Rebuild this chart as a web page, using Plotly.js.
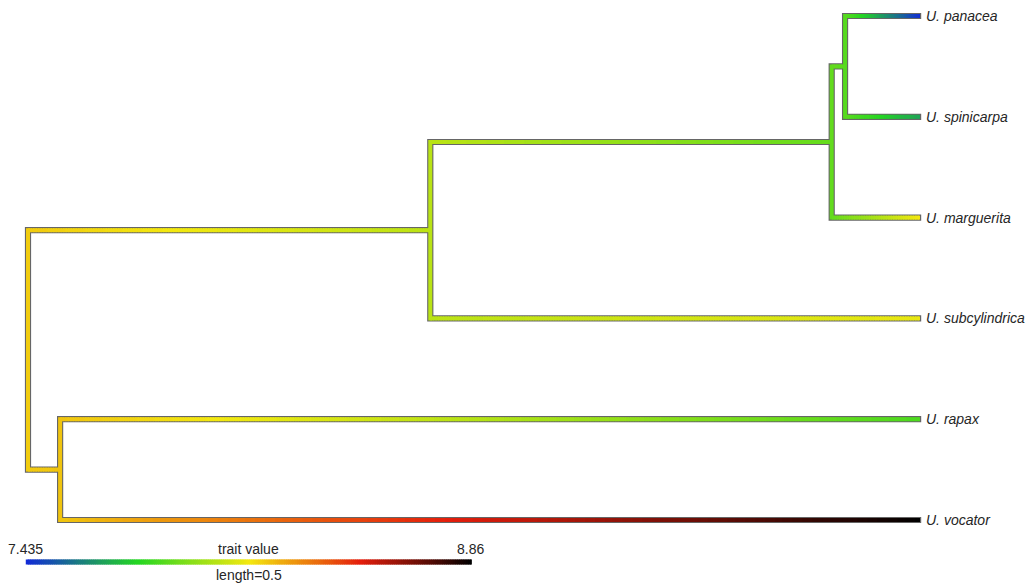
<!DOCTYPE html>
<html>
<head>
<meta charset="utf-8">
<script src="https://cdn.plot.ly/plotly-3.0.1.min.js"></script>
<style>
  html, body { margin: 0; padding: 0; background: #ffffff; }
  #chart { width: 1036px; height: 586px; }
</style>
</head>
<body>
<div id="chart"></div>
<script>
// ---- Tree data -------------------------------------------------------------
// Tips, listed top to bottom (ids 0-5)
const tipLabels = ["U. panacea", "U. spinicarpa", "U. marguerita", "U. subcylindrica", "U. rapax", "U. vocator"];
const tipTrait  = [7.435, 7.68, 8.15, 8.13, 7.86, 8.86];
const tipDepth  = [1, 1, 1, 1, 1, 1];

// Internal nodes (ids 6-10): root, upper clade, marguerita clade, panacea+spinicarpa, rapax+vocator
const nodeIds   = [6, 7, 8, 9, 10];
const nodeDepth = [0, 0.451, 0.901, 0.916, 0.036];
const nodeTrait = [8.20, 8.05, 7.90, 7.88, 8.21];

// Edges parent -> child
const edgeParent = [6, 6, 7, 7, 8, 8, 9, 9, 10, 10];
const edgeChild  = [7, 10, 8, 3, 9, 2, 0, 1, 4, 5];

// Colour scale limits and branch-length scale bar
const traitRange  = [7.435, 8.86];
const scaleLength = 0.5;
const legendTitle = "trait value";

// ---- Drawing settings ------------------------------------------------------
const W = 1036, H = 586;
const pxPerX = 892, pxPerY = 100.8;
const xRange = [-28 / pxPerX, (W - 28) / pxPerX];
const yTop = 6 + 16 / pxPerY;
const yRange = [yTop - H / pxPerY, yTop];
const innerW = 4, outlineW = 6.2, barW = 5;
const outlineColor = "#666666";

const rampStops = [
  [0.00, [18, 42, 215]],
  [0.25, [36, 214, 34]],
  [0.50, [243, 232, 16]],
  [0.75, [228, 30, 12]],
  [1.00, [0, 0, 0]]
];
function rampColor(f) {
  f = Math.max(0, Math.min(1, f));
  for (let i = 1; i < rampStops.length; i++) {
    if (f <= rampStops[i][0]) {
      const [f0, c0] = rampStops[i - 1], [f1, c1] = rampStops[i];
      const t = (f - f0) / (f1 - f0);
      const c = c0.map((v, k) => Math.round(v + (c1[k] - v) * t));
      return `rgb(${c[0]},${c[1]},${c[2]})`;
    }
  }
  return "rgb(0,0,0)";
}
const toFrac = v => (v - traitRange[0]) / (traitRange[1] - traitRange[0]);

// ---- Node lookups ------------------------------------------------------------
const depth = {}, trait = {}, ypos = {}, kids = {};
tipLabels.forEach((_, i) => { depth[i] = tipDepth[i]; trait[i] = tipTrait[i]; ypos[i] = tipLabels.length - i; });
nodeIds.forEach((id, i) => { depth[id] = nodeDepth[i]; trait[id] = nodeTrait[i]; });
edgeParent.forEach((p, i) => { (kids[p] = kids[p] || []).push(edgeChild[i]); });
function nodeY(id) {
  if (ypos[id] === undefined) {
    const ys = kids[id].map(nodeY);
    ypos[id] = (Math.min(...ys) + Math.max(...ys)) / 2;
  }
  return ypos[id];
}
nodeIds.forEach(nodeY);

// ---- Segments coloured by value (grouped into colour bins) -------------------
const NBIN = 200;
function binnedTraces(segs, width) {
  const bins = {};
  segs.forEach(s => {
    const b = Math.round(Math.max(0, Math.min(1, s.f)) * NBIN);
    if (!bins[b]) bins[b] = { x: [], y: [] };
    bins[b].x.push(s.x0, s.x1, null);
    bins[b].y.push(s.y0, s.y1, null);
  });
  return Object.keys(bins).map(b => ({
    type: "scatter", mode: "lines",
    x: bins[b].x, y: bins[b].y,
    line: { color: rampColor(b / NBIN), width: width },
    hoverinfo: "skip", showlegend: false
  }));
}

// Outline: one bracket path per internal node
const ox = [], oy = [];
const capX = 1.2 / pxPerX, halfInY = (innerW / 2) / pxPerY;
const overlapX = 1.5 / pxPerX;
nodeIds.forEach(id => {
  const ch = kids[id].slice().sort((a, b) => nodeY(b) - nodeY(a));
  const a = ch[0], b = ch[ch.length - 1];
  const ea = depth[a] + (a < 6 ? capX : 0), eb = depth[b] + (b < 6 ? capX : 0);
  ox.push(ea, depth[id], depth[id], eb, null);
  oy.push(nodeY(a), nodeY(a), nodeY(b), nodeY(b), null);
});

// Coloured branch segments, each overlapping the next a little so no seams show
const segs = [];
edgeParent.forEach((p, i) => {
  const c = edgeChild[i];
  const len = depth[c] - depth[p];
  const n = Math.max(2, Math.ceil(len * pxPerX / 2.5));
  for (let k = 0; k < n; k++) {
    const t0 = k / n, t1 = (k + 1) / n, tm = (k + 0.5) / n;
    segs.push({
      x0: depth[p] + len * t0,
      x1: Math.min(depth[c], depth[p] + len * t1 + overlapX),
      y0: nodeY(c), y1: nodeY(c),
      f: toFrac(trait[p] + (trait[c] - trait[p]) * tm)
    });
  }
});
// Vertical connectors take the parent node's value
nodeIds.forEach(id => {
  const ys = kids[id].map(nodeY);
  segs.push({
    x0: depth[id], x1: depth[id],
    y0: Math.min(...ys) - halfInY, y1: Math.max(...ys) + halfInY,
    f: toFrac(trait[id])
  });
});

// Colour bar, one scale unit long
const barX0 = -0.0025, barY = yTop - 562 / pxPerY;
const barSegs = [];
const nb = 240;
for (let k = 0; k < nb; k++) {
  barSegs.push({
    x0: barX0 + scaleLength * k / nb,
    x1: Math.min(barX0 + scaleLength, barX0 + scaleLength * (k + 1) / nb + overlapX),
    y0: barY, y1: barY, f: (k + 0.5) / nb
  });
}

const traces = [
  { type: "scatter", mode: "lines", x: ox, y: oy,
    line: { color: outlineColor, width: outlineW },
    hoverinfo: "skip", showlegend: false }
].concat(binnedTraces(segs, innerW), binnedTraces(barSegs, barW));

// ---- Text ------------------------------------------------------------------
const txtFont = { family: "Liberation Sans, Arial, sans-serif", size: 14, color: "#262626" };
const annotations = tipLabels.map((lab, i) => ({
  x: tipDepth[i] + 4 / pxPerX, y: ypos[i], xref: "x", yref: "y",
  text: "<i>" + lab + "</i>", showarrow: false,
  xanchor: "left", yanchor: "middle", font: txtFont
}));
const barMid = barX0 + scaleLength / 2;
const labY = yTop - 549 / pxPerY, lenY = yTop - 575 / pxPerY;
annotations.push(
  { x: barX0, y: labY, xref: "x", yref: "y", text: String(traitRange[0]), showarrow: false,
    xanchor: "center", yanchor: "middle", font: txtFont },
  { x: barX0 + scaleLength, y: labY, xref: "x", yref: "y", text: String(traitRange[1]), showarrow: false,
    xanchor: "right", xshift: 14, yanchor: "middle", font: txtFont },
  { x: barMid, y: labY, xref: "x", yref: "y", text: legendTitle, showarrow: false,
    xanchor: "center", yanchor: "middle", font: txtFont },
  { x: barMid, y: lenY, xref: "x", yref: "y", text: "length=" + scaleLength, showarrow: false,
    xanchor: "center", yanchor: "middle", font: txtFont }
);

const layout = {
  width: W, height: H,
  margin: { l: 0, r: 0, t: 0, b: 0, pad: 0 },
  paper_bgcolor: "#ffffff", plot_bgcolor: "#ffffff",
  showlegend: false,
  xaxis: { range: xRange, visible: false, fixedrange: true },
  yaxis: { range: yRange, visible: false, fixedrange: true },
  annotations: annotations
};

Plotly.newPlot("chart", traces, layout, { staticPlot: true, displayModeBar: false });
</script>
</body>
</html>
